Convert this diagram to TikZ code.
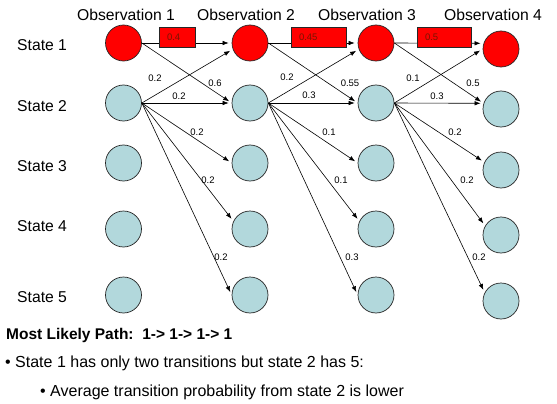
\documentclass[tikz,border=0pt]{standalone}
\usepackage{fontspec}
\setmainfont{Liberation Sans}
\usetikzlibrary{arrows.meta}
\definecolor{hmmblue}{RGB}{178,216,220}
\definecolor{boxtext}{RGB}{120,20,0}
\begin{document}
\begin{tikzpicture}[x=1pt, y=-1pt,
		hstate/.style={circle, draw=black!85, line width=0.7pt, fill=hmmblue, minimum size=36pt, inner sep=0pt},
		pstate/.style={hstate, fill=red},
		big/.style={font=\fontsize{15.7}{18}\selectfont, inner sep=0pt},
		prob/.style={font=\fontsize{9.5}{11}\selectfont, inner sep=0pt},
		pbox/.style={draw=black!85, line width=0.6pt, fill=red, minimum height=20pt, inner xsep=8pt, inner ysep=0pt, align=left, text=boxtext, font=\fontsize{9.5}{11}\selectfont}]
	\useasboundingbox (0,0) rectangle (557,404);

	% headings and row names
	\node [big] (obs1) at (126,15) {Observation 1};
	\node [big] (obs2) at (246,15) {Observation 2};
	\node [big] (obs3) at (367,15) {Observation 3};
	\node [big] (obs4) at (493,15) {Observation 4};

	\node [big, anchor=west] (st1) at (17,45) {State 1};
	\node [big, anchor=west] (st2) at (17,106) {State 2};
	\node [big, anchor=west] (st3) at (17,166) {State 3};
	\node [big, anchor=west] (st4) at (17,226) {State 4};
	\node [big, anchor=west] (st5) at (17,297) {State 5};

	% the trellis
	\node [pstate] (o1s1) at (123.5,43) {};
	\node [hstate] (o1s2) at (123.5,103) {};
	\node [hstate] (o1s3) at (123.5,163) {};
	\node [hstate] (o1s4) at (123.5,229) {};
	\node [hstate] (o1s5) at (123.5,295) {};

	\node [pstate] (o2s1) at (250,43) {};
	\node [hstate] (o2s2) at (250,103) {};
	\node [hstate] (o2s3) at (250,163) {};
	\node [hstate] (o2s4) at (250,229) {};
	\node [hstate] (o2s5) at (250,295) {};

	\node [pstate] (o3s1) at (376,43) {};
	\node [hstate] (o3s2) at (376,103) {};
	\node [hstate] (o3s3) at (376,163) {};
	\node [hstate] (o3s4) at (376,229) {};
	\node [hstate] (o3s5) at (376,295) {};

	\node [pstate] (o4s1) at (501,49) {};
	\node [hstate] (o4s2) at (501,109) {};
	\node [hstate] (o4s3) at (501,170) {};
	\node [hstate] (o4s4) at (501,235) {};
	\node [hstate] (o4s5) at (501,301) {};

	\begin{scope}[->, >={Latex[length=6pt, width=4.5pt]}, line width=0.6pt, shorten >=3pt]
		\draw (o1s1.east) -- (o2s1.west);
		\draw (o1s1.east) -- (o2s2.west);
		\draw (o1s2.east) -- (o2s1.200);
		\draw (o1s2.east) -- (o2s2.west);
		\draw (o1s2.east) -- (o2s3.west);
		\draw (o1s2.east) -- (o2s4.155);
		\draw (o1s2.east) -- (o2s5.west);

		\draw (o2s1.east) -- (o3s1.west);
		\draw (o2s1.east) -- (o3s2.west);
		\draw (o2s2.east) -- (o3s1.200);
		\draw (o2s2.east) -- (o3s2.west);
		\draw (o2s2.east) -- (o3s3.west);
		\draw (o2s2.east) -- (o3s4.155);
		\draw (o2s2.east) -- (o3s5.west);

		\draw (o3s1.east) -- (o4s1.162);
		\draw (o3s1.east) -- (o4s2.162);
		\draw (o3s2.east) -- (o4s1.west);
		\draw (o3s2.east) -- (o4s2.162);
		\draw (o3s2.east) -- (o4s3.155);
		\draw (o3s2.east) -- (o4s4.150);
		\draw (o3s2.east) -- (o4s5.153);
	\end{scope}

	% best path probabilities
	\node [pbox, text width=20pt] (b12) at (177,37) {0.4};
	\node [pbox, text width=39pt] (b23) at (318.5,37) {0.45};
	\node [pbox, text width=38pt] (b34) at (444,37) {0.5};

	\begin{scope}[prob]
		\node [prob] (p1a) at (155,78) {0.2};
		\node [prob] (p1b) at (215,83) {0.6};
		\node [prob] (p1c) at (179,96) {0.2};
		\node [prob] (p1d) at (197,132) {0.2};
		\node [prob] (p1e) at (208,180) {0.2};
		\node [prob] (p1f) at (221,257) {0.2};

		\node [prob] (p2a) at (287,77) {0.2};
		\node [prob] (p2b) at (350,83) {0.55};
		\node [prob] (p2c) at (309,95) {0.3};
		\node [prob] (p2d) at (329,132) {0.1};
		\node [prob] (p2e) at (341,180) {0.1};
		\node [prob] (p2f) at (352,257) {0.3};

		\node [prob] (p3a) at (413,78) {0.1};
		\node [prob] (p3b) at (473,83) {0.5};
		\node [prob] (p3c) at (437,96) {0.3};
		\node [prob] (p3d) at (455,132) {0.2};
		\node [prob] (p3e) at (467,180) {0.2};
		\node [prob] (p3f) at (479,257) {0.2};
	\end{scope}

	% notes
	\node [anchor=base west, inner sep=0pt, font=\fontsize{15.5}{18}\selectfont\bfseries] (path) at (6,339) {Most Likely Path:\ \ 1-> 1-> 1-> 1};
	\node [anchor=base west, inner sep=0pt, font=\fontsize{16}{18}\selectfont] (note1) at (5,367) {\textbullet\ State 1 has only two transitions but state 2 has 5:};
	\node [anchor=base west, inner sep=0pt, font=\fontsize{16}{18}\selectfont] (note2) at (40,396) {\textbullet\ Average transition probability from state 2 is lower};
\end{tikzpicture}
\end{document}
